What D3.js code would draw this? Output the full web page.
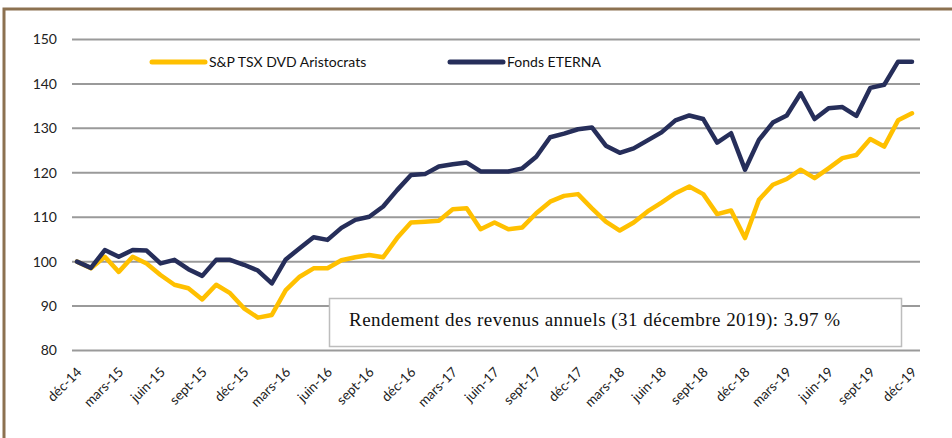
<!DOCTYPE html>
<html>
<head>
<meta charset="utf-8">
<script src="https://cdn.jsdelivr.net/npm/d3@7"></script>
<style>
  html, body { margin: 0; padding: 0; background: #fff; }
  svg { display: block; }
</style>
</head>
<body>
<svg id="chart" width="952" height="438"></svg>
<script>
const months = ["déc","janv","févr","mars","avr","mai","juin","juil","août","sept","oct","nov"];
const dates = [];
for (let i = 0; i <= 60; i++) {
  const m = i % 12;
  const y = 14 + Math.floor((i + 11) / 12);
  dates.push(months[m] + "-" + y);
}
const tickLabels = ["déc-14","mars-15","juin-15","sept-15","déc-15","mars-16","juin-16","sept-16","déc-16","mars-17","juin-17","sept-17","déc-17","mars-18","juin-18","sept-18","déc-18","mars-19","juin-19","sept-19","déc-19"];
const yTicks = [80, 90, 100, 110, 120, 130, 140, 150];

const seriesNames = ["S&P TSX DVD Aristocrats", "Fonds ETERNA"];
const aristocrats = [100, 98.5, 101.1, 97.7, 101.1, 99.6, 97.0, 94.8, 94.0, 91.5, 94.8, 92.9,
  89.5, 87.4, 88.0, 93.6, 96.6, 98.5, 98.5, 100.3, 101.0, 101.5, 101.0, 105.3,
  108.8, 109.0, 109.2, 111.8, 112.0, 107.3, 108.8, 107.3, 107.7, 110.9, 113.5, 114.8,
  115.2, 112.0, 109.0, 107.0, 108.8, 111.3, 113.3, 115.4, 116.9, 115.2, 110.7, 111.5,
  105.3, 113.9, 117.3, 118.6, 120.7, 118.8, 121.0, 123.3, 124.0, 127.6, 125.9, 131.8, 133.4];
const eterna = [100, 98.6, 102.6, 101.1, 102.6, 102.5, 99.6, 100.4, 98.3, 96.8, 100.4, 100.4,
  99.3, 98.0, 95.1, 100.5, 103.0, 105.5, 104.9, 107.6, 109.4, 110.1, 112.4, 116.1,
  119.5, 119.7, 121.4, 121.9, 122.3, 120.3, 120.3, 120.3, 121.0, 123.6, 128.0, 128.8,
  129.8, 130.2, 126.1, 124.5, 125.5, 127.3, 129.1, 131.8, 132.9, 132.1, 126.8, 128.9,
  120.7, 127.4, 131.3, 132.9, 137.9, 132.1, 134.5, 134.8, 132.8, 139.1, 139.8, 145.0, 145.0];
const colors = ["#FFC000", "#262E5A"];
const note = "Rendement des revenus annuels (31 décembre 2019): 3.97 %";

const svg = d3.select("#chart");
const sansFont = "Lato, 'Open Sans', sans-serif";

// outer frame (partially cropped)
svg.append("rect").attr("x", 4).attr("y", 9).attr("width", 960).attr("height", 440)
  .attr("fill", "none").attr("stroke", "#8C7150").attr("stroke-width", 3);

const x = d3.scalePoint().domain(dates).range([77, 912]);
const y = d3.scaleLinear().domain([80, 150]).range([350.5, 39.5]);
const gridX0 = 72, gridX1 = 920;

// gridlines
svg.append("g").selectAll("line").data(yTicks).join("line")
  .attr("x1", gridX0).attr("x2", gridX1)
  .attr("y1", d => y(d)).attr("y2", d => y(d))
  .attr("stroke", "#9a9a9a").attr("stroke-width", 2);

// y axis labels
const yAxis = d3.axisLeft(y).tickValues(yTicks).tickSize(0).tickPadding(0);
const gy = svg.append("g").attr("transform", `translate(57,0)`).call(yAxis);
gy.select(".domain").remove();
gy.selectAll("text").attr("font-family", sansFont).attr("font-size", 14).attr("fill", "#222");

// x axis labels
const xAxis = d3.axisBottom(x).tickValues(tickLabels).tickSize(0).tickPadding(0);
const gx = svg.append("g").attr("transform", `translate(0,350)`).call(xAxis);
gx.select(".domain").remove();
gx.selectAll("text")
  .attr("font-family", sansFont).attr("font-size", 13.5).attr("fill", "#222")
  .attr("text-anchor", "end").attr("dy", null)
  .attr("transform", "translate(5,23) rotate(-45)");

// lines
const line = d3.line().x((d, i) => x(dates[i])).y(d => y(d));
[aristocrats, eterna].forEach((s, k) => {
  svg.append("path").datum(s).attr("d", line)
    .attr("fill", "none").attr("stroke", colors[k]).attr("stroke-width", 4.5)
    .attr("stroke-linejoin", "round").attr("stroke-linecap", "round");
});

// legend
const legendX = [152, 450];
seriesNames.forEach((n, k) => {
  const g = svg.append("g");
  g.append("line").attr("x1", legendX[k]).attr("x2", legendX[k] + 53)
    .attr("y1", 62).attr("y2", 62)
    .attr("stroke", colors[k]).attr("stroke-width", 5).attr("stroke-linecap", "round");
  g.append("text").attr("x", legendX[k] + 57).attr("y", 66.5)
    .attr("font-family", sansFont).attr("font-size", 14).attr("fill", "#111").text(n);
});

// annotation box
svg.append("rect").attr("x", 329.5).attr("y", 298.5).attr("width", 572).attr("height", 48)
  .attr("fill", "#fff").attr("stroke", "#bdbdbd").attr("stroke-width", 1.5);
svg.append("text").attr("x", 349).attr("y", 326)
  .attr("font-family", "'Liberation Serif', 'DejaVu Serif', serif").attr("font-size", 19)
  .attr("textLength", 491).attr("lengthAdjust", "spacing")
  .attr("fill", "#111").text(note);
</script>
</body>
</html>
